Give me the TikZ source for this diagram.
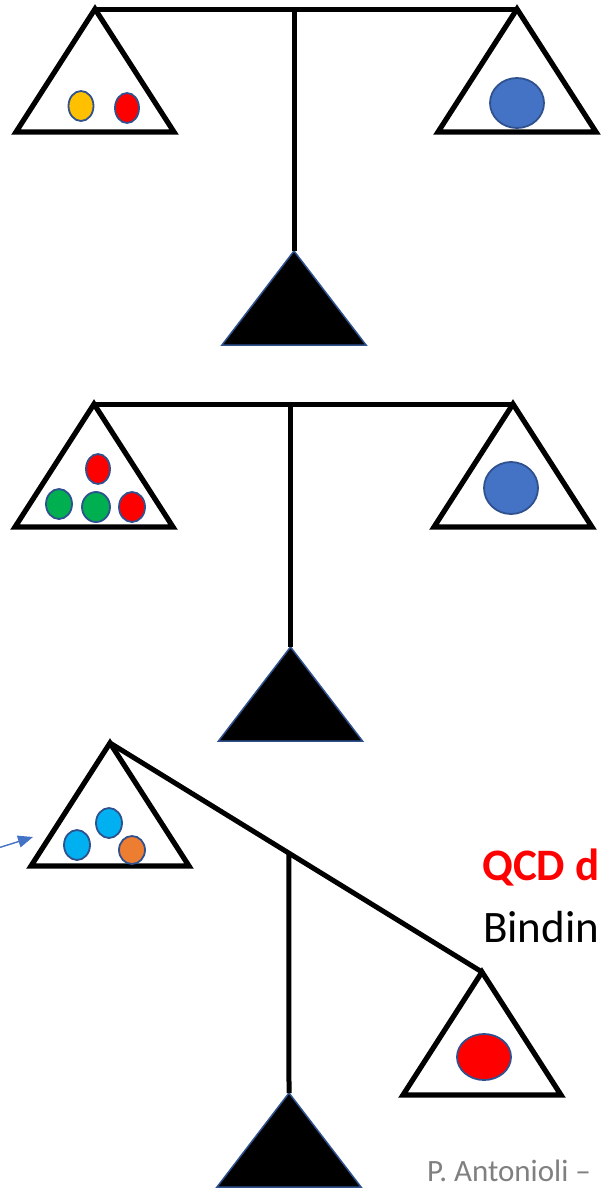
\documentclass[tikz,border=0pt]{standalone}
\usepackage{fontspec}
\setmainfont{Carlito}
\usetikzlibrary{calc,arrows.meta}

\definecolor{edgeblue}{HTML}{2F528F}
\definecolor{arrowblue}{HTML}{4472C4}
\definecolor{ballyellow}{HTML}{FFC000}
\definecolor{ballred}{HTML}{FF0000}
\definecolor{ballgreen}{HTML}{00B050}
\definecolor{ballblue}{HTML}{4472C4}
\definecolor{balllight}{HTML}{00B0F0}
\definecolor{ballorange}{HTML}{ED7D31}
\definecolor{footgray}{HTML}{808080}

\begin{document}
\begin{tikzpicture}[x=1pt, y=-1pt]
  % -----------------------------
  % SIZES
  % -----------------------------
  \def\hw{79}   % pan half width
  \def\ph{123}  % pan height
  \def\fw{72}   % fulcrum half width
  \def\fh{94}   % fulcrum height

  % -----------------------------
  % STYLES
  % -----------------------------
  \tikzset{
    panline/.style={line width=5.2pt, line join=miter},
    beamline/.style={line width=5pt},
    fulcrumtri/.style={fill=black, draw=edgeblue, line width=1.5pt},
    weight/.style={draw=edgeblue, line width=1.8pt},
    caption/.style={anchor=base west, inner sep=0pt},
  }

  \clip (0,0) rectangle (602,1189);

  % -----------------------------
  % APEX POINTS
  % -----------------------------
  \coordinate (L1) at (95,9);
  \coordinate (R1) at (517,9);
  \coordinate (F1) at (294,251);
  \coordinate (L2) at (94,404);
  \coordinate (R2) at (513,404);
  \coordinate (F2) at (290.5,647);
  \coordinate (L3) at (110,743);
  \coordinate (R3) at (482,972);
  \coordinate (F3) at (289,1093);

  % post tops on the beams
  \coordinate (T1) at (F1 |- L1);
  \coordinate (T2) at (F2 |- L2);
  \coordinate (T3) at ($(L3)!0.481!(R3)$);

  % -----------------------------
  % FULCRUMS, POSTS, BEAMS
  % -----------------------------
  \foreach \f in {F1,F2,F3}
    \filldraw[fulcrumtri] (\f) -- ++(-\fw,\fh) -- ++(2*\fw,0) -- cycle;

  \foreach \t/\f in {T1/F1,T2/F2,T3/F3}
    \draw[beamline] (\t) -- (\f);

  \draw[beamline] (L1) -- (R1);
  \draw[beamline] (L2) -- (R2);
  \draw[beamline] (L3) -- (R3);

  % -----------------------------
  % PANS
  % -----------------------------
  \foreach \p in {L1,R1,L2,R2,L3,R3}
    \draw[panline] (\p) -- ++(-\hw,\ph) -- ++(2*\hw,0) -- cycle;

  % -----------------------------
  % WEIGHTS
  % -----------------------------
  % balance 1
  \draw[weight, fill=ballyellow] (81,106) ellipse [x radius=12.5pt, y radius=15pt];
  \draw[weight, fill=ballred]    (127,108) ellipse [x radius=12pt, y radius=15pt];
  \draw[weight, fill=ballblue]   (517,103) ellipse [x radius=27pt, y radius=25pt];

  % balance 2
  \draw[weight, fill=ballred]    (98,469) ellipse [x radius=12pt, y radius=15pt];
  \draw[weight, fill=ballgreen]  (59,504) ellipse [x radius=13pt, y radius=15pt];
  \draw[weight, fill=ballgreen]  (96,507) ellipse [x radius=14pt, y radius=15pt];
  \draw[weight, fill=ballred]    (132,507) ellipse [x radius=13pt, y radius=15pt];
  \draw[weight, fill=ballblue]   (511,488) ellipse [x radius=27pt, y radius=26pt];

  % balance 3
  \draw[weight, fill=balllight]  (77,845) ellipse [x radius=13pt, y radius=15pt];
  \draw[weight, fill=balllight]  (109,823) ellipse [x radius=13pt, y radius=15pt];
  \draw[weight, fill=ballorange] (132,850) ellipse [x radius=13pt, y radius=14pt];
  \draw[weight, fill=ballred]    (484,1057) ellipse [x radius=27pt, y radius=23pt];

  % pointer into the left pan
  \coordinate (tail) at (-2,848);
  \coordinate (tip) at (33,837);
  \draw[arrowblue, line width=1.4pt, -{Triangle[length=15pt, width=12pt]}] (tail) -- (tip);

  % -----------------------------
  % TEXT
  % -----------------------------
  \node[caption, text=ballred, font=\fontsize{45}{54}\selectfont\bfseries] (qcd) at (482,880) {QCD d};
  \node[caption, font=\fontsize{45}{54}\selectfont] (bind) at (483,942) {Bindin};
  \node[caption, text=footgray, font=\fontsize{31}{37}\selectfont] (author) at (427,1181) {P. Antonioli –};
\end{tikzpicture}
\end{document}
